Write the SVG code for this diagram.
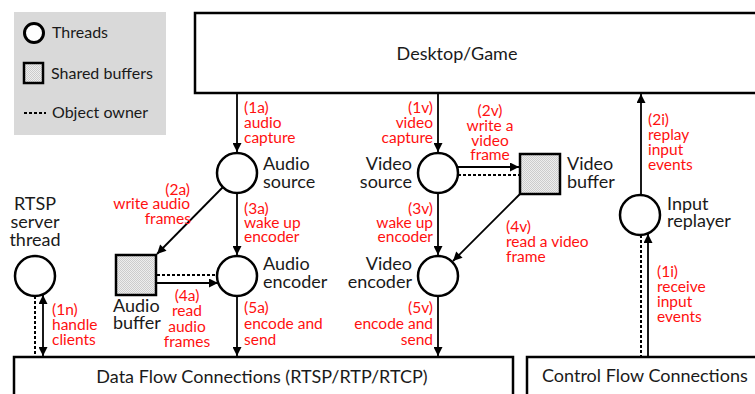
<svg xmlns="http://www.w3.org/2000/svg" width="755" height="394" viewBox="0 0 755 394">
  <defs>
    <pattern id="dots" width="2" height="2" patternUnits="userSpaceOnUse">
      <rect width="2" height="2" fill="#eeeeee"/>
      <rect width="1" height="1" fill="#cccccc"/>
      <rect x="1" y="1" width="1" height="1" fill="#cccccc"/>
    </pattern>
    <marker id="arrow" viewBox="0 0 10 10" refX="10" refY="5" markerWidth="10" markerHeight="9" markerUnits="userSpaceOnUse" orient="auto-start-reverse">
      <path d="M0,0 L10,5 L0,10 Z" fill="#000"/>
    </marker>
    <style>
      .box { fill: #fff; stroke: #000; stroke-width: 2.5; }
      .thread { fill: #fff; stroke: #000; stroke-width: 2.5; }
      .buffer { fill: url(#dots); stroke: #000; stroke-width: 2.5; }
      .flow { stroke: #000; stroke-width: 1.8; fill: none; }
      .arrow { marker-end: url(#arrow); }
      .owner { stroke: #000; stroke-width: 2; stroke-dasharray: 3 2; fill: none; }
      .lbl { font-family: Lato, "Liberation Sans", sans-serif; font-size: 18px; fill: #1a1a1a; }
      .leg { font-family: Lato, "Liberation Sans", sans-serif; font-size: 16px; fill: #1a1a1a; }
      .step { font-family: Lato, "Liberation Sans", sans-serif; font-size: 15.5px; fill: #ff1010; }
      .mid { text-anchor: middle; }
      .end { text-anchor: end; }
    </style>
  </defs>

  <!-- legend -->
  <g id="legend">
    <rect x="14" y="12" width="152" height="123" fill="#d9d9d9"/>
    <circle cx="34" cy="33" r="9.5" fill="#fff" stroke="#000" stroke-width="3"/>
    <text class="leg" x="52" y="38">Threads</text>
    <rect x="24" y="63" width="19" height="20" class="buffer" stroke-width="3"/>
    <text class="leg" x="51" y="79">Shared buffers</text>
    <line x1="24" y1="113" x2="46" y2="113" class="owner"/>
    <text class="leg" x="52" y="118">Object owner</text>
  </g>

  <!-- endpoints -->
  <g id="desktop-game">
    <rect x="195" y="13" width="600" height="80" class="box"/>
    <text class="lbl mid" x="457" y="60">Desktop/Game</text>
  </g>
  <g id="data-flow">
    <rect x="14" y="357" width="499" height="60" class="box"/>
    <text class="lbl mid" x="262" y="383">Data Flow Connections (RTSP/RTP/RTCP)</text>
  </g>
  <g id="control-flow">
    <rect x="527" y="357" width="260" height="60" class="box"/>
    <text class="lbl" x="542" y="382">Control Flow Connections</text>
  </g>

  <!-- threads -->
  <g id="audio-source">
    <circle cx="237" cy="173" r="20" class="thread"/>
    <text class="lbl" x="263" y="170">Audio</text>
    <text class="lbl" x="263" y="188">source</text>
  </g>
  <g id="audio-encoder">
    <circle cx="237" cy="276" r="20" class="thread"/>
    <text class="lbl" x="263" y="270">Audio</text>
    <text class="lbl" x="263" y="288">encoder</text>
  </g>
  <g id="video-source">
    <circle cx="438" cy="173" r="20" class="thread"/>
    <text class="lbl end" x="412" y="170">Video</text>
    <text class="lbl end" x="412" y="188">source</text>
  </g>
  <g id="video-encoder">
    <circle cx="438" cy="276" r="20" class="thread"/>
    <text class="lbl end" x="412" y="270">Video</text>
    <text class="lbl end" x="412" y="288">encoder</text>
  </g>
  <g id="rtsp-server">
    <circle cx="35" cy="276" r="20" class="thread"/>
    <text class="lbl mid" x="35" y="210">RTSP</text>
    <text class="lbl mid" x="35" y="228">server</text>
    <text class="lbl mid" x="35" y="246">thread</text>
  </g>
  <g id="input-replayer">
    <circle cx="640" cy="215" r="20" class="thread"/>
    <text class="lbl" x="667" y="210">Input</text>
    <text class="lbl" x="667" y="227">replayer</text>
  </g>

  <!-- shared buffers -->
  <g id="audio-buffer">
    <rect x="116" y="255" width="40" height="40" class="buffer"/>
    <text class="lbl" x="113" y="312">Audio</text>
    <text class="lbl" x="113" y="329">buffer</text>
  </g>
  <g id="video-buffer">
    <rect x="520" y="154" width="40" height="40" class="buffer"/>
    <text class="lbl" x="567" y="170">Video</text>
    <text class="lbl" x="567" y="188">buffer</text>
  </g>

  <!-- connectors -->
  <g id="connectors">
    <!-- audio path -->
    <line x1="237" y1="94" x2="237" y2="152" class="flow arrow"/>
    <line x1="223" y1="187" x2="157" y2="254" class="flow arrow"/>
    <line x1="237" y1="193" x2="237" y2="255" class="flow arrow"/>
    <line x1="157" y1="275" x2="217" y2="275" class="owner"/>
    <line x1="157" y1="283" x2="218" y2="283" class="flow arrow"/>
    <line x1="237" y1="296" x2="237" y2="356" class="flow arrow"/>
    <!-- video path -->
    <line x1="438" y1="94" x2="438" y2="152" class="flow arrow"/>
    <line x1="458" y1="167" x2="519" y2="167" class="flow arrow"/>
    <line x1="458" y1="175" x2="520" y2="175" class="owner"/>
    <line x1="438" y1="193" x2="438" y2="255" class="flow arrow"/>
    <line x1="520" y1="194" x2="453" y2="261" class="flow arrow"/>
    <line x1="438" y1="296" x2="438" y2="356" class="flow arrow"/>
    <!-- RTSP server -->
    <line x1="35" y1="296" x2="35" y2="357" class="owner"/>
    <line x1="43" y1="295" x2="43" y2="356" class="flow arrow" marker-start="url(#arrow)"/>
    <!-- input path -->
    <line x1="641" y1="195" x2="641" y2="94" class="flow arrow"/>
    <line x1="641" y1="235" x2="641" y2="357" class="owner"/>
    <line x1="648" y1="357" x2="648" y2="234" class="flow arrow"/>
  </g>

  <!-- step labels -->
  <g id="step-labels">
    <text class="step" x="244" y="113">(1a)</text>
    <text class="step" x="244" y="128">audio</text>
    <text class="step" x="244" y="143">capture</text>

    <text class="step end" x="190" y="195">(2a)</text>
    <text class="step end" x="190" y="209">write audio</text>
    <text class="step end" x="191" y="224">frames</text>

    <text class="step" x="244" y="214">(3a)</text>
    <text class="step" x="244" y="228">wake up</text>
    <text class="step" x="244" y="242">encoder</text>

    <text class="step mid" x="187" y="301">(4a)</text>
    <text class="step mid" x="187" y="316">read</text>
    <text class="step mid" x="187" y="332">audio</text>
    <text class="step mid" x="187" y="347">frames</text>

    <text class="step" x="244" y="313">(5a)</text>
    <text class="step" x="244" y="329">encode and</text>
    <text class="step" x="244" y="345">send</text>

    <text class="step end" x="433" y="113">(1v)</text>
    <text class="step end" x="433" y="128">video</text>
    <text class="step end" x="433" y="143">capture</text>

    <text class="step mid" x="490" y="116">(2v)</text>
    <text class="step mid" x="490" y="131">write a</text>
    <text class="step mid" x="490" y="146">video</text>
    <text class="step mid" x="490" y="160">frame</text>

    <text class="step end" x="433" y="214">(3v)</text>
    <text class="step end" x="433" y="228">wake up</text>
    <text class="step end" x="433" y="242">encoder</text>

    <text class="step" x="506" y="232">(4v)</text>
    <text class="step" x="506" y="247">read a video</text>
    <text class="step" x="506" y="262">frame</text>

    <text class="step end" x="433" y="313">(5v)</text>
    <text class="step end" x="433" y="329">encode and</text>
    <text class="step end" x="433" y="345">send</text>

    <text class="step" x="52" y="315">(1n)</text>
    <text class="step" x="52" y="330">handle</text>
    <text class="step" x="52" y="345">clients</text>

    <text class="step" x="657" y="277">(1i)</text>
    <text class="step" x="657" y="292">receive</text>
    <text class="step" x="657" y="307">input</text>
    <text class="step" x="657" y="322">events</text>

    <text class="step" x="648" y="125">(2i)</text>
    <text class="step" x="648" y="140">replay</text>
    <text class="step" x="648" y="155">input</text>
    <text class="step" x="648" y="170">events</text>
  </g>
</svg>
